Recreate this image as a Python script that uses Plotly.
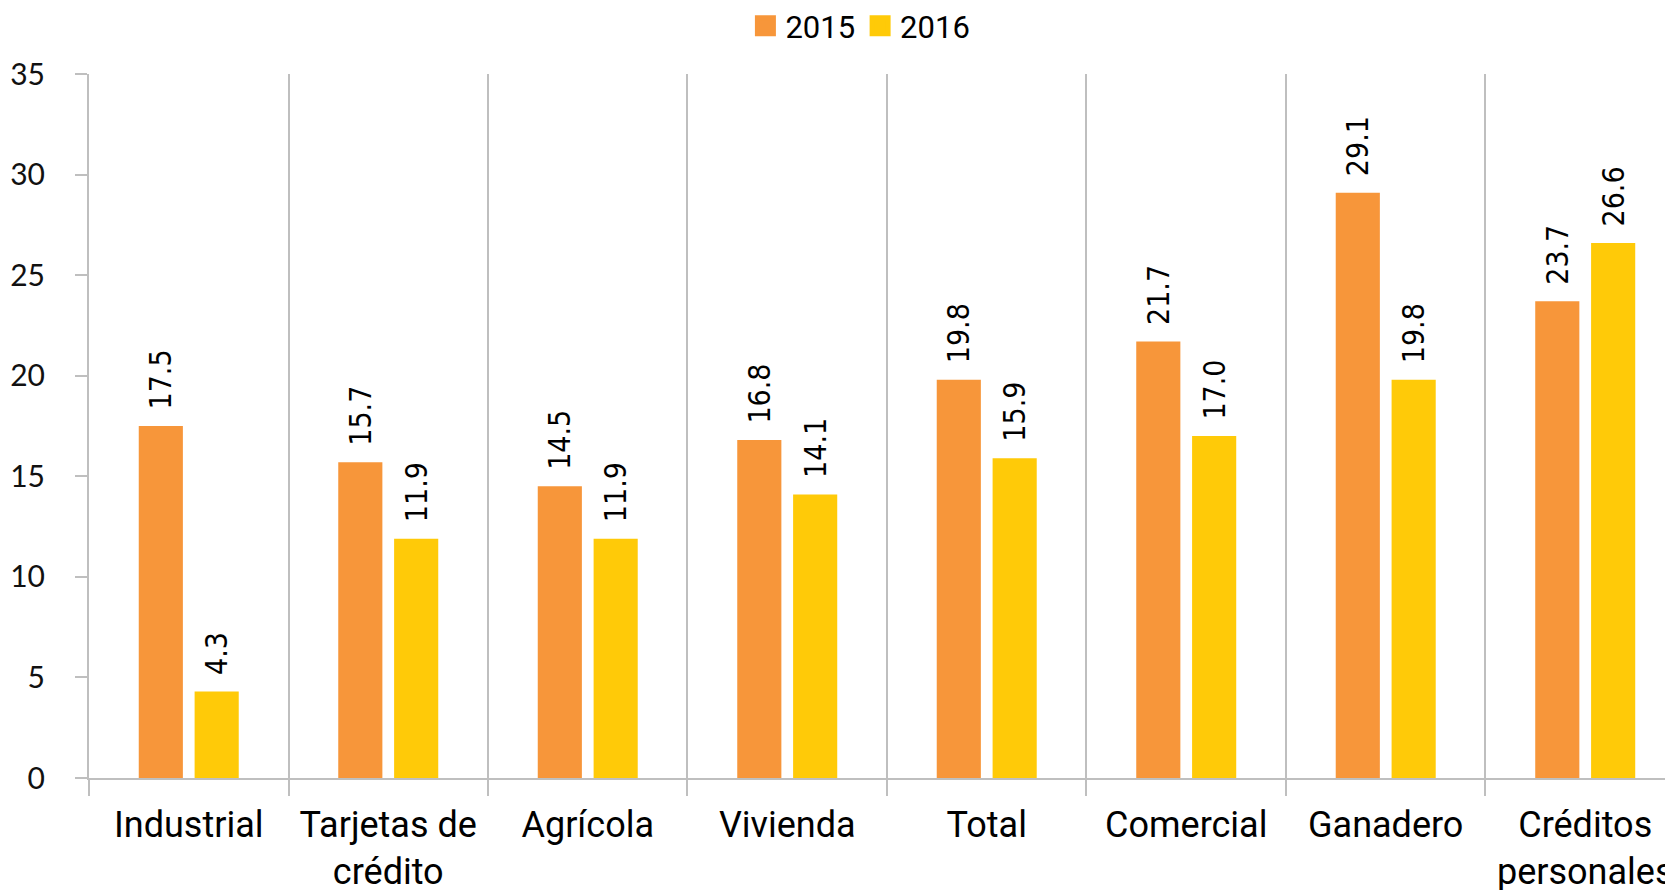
import plotly.graph_objects as go

categories = ["Industrial", "Tarjetas de<br>crédito", "Agrícola", "Vivienda", "Total",
              "Comercial", "Ganadero", "Créditos<br>personales"]
series_names = ["2015", "2016"]
values_2015 = [17.5, 15.7, 14.5, 16.8, 19.8, 21.7, 29.1, 23.7]
values_2016 = [4.3, 11.9, 11.9, 14.1, 15.9, 17.0, 19.8, 26.6]
y_ticks = [0, 5, 10, 15, 20, 25, 30, 35]

colors = ["#F7963A", "#FFCA08"]
label_font = dict(family="Liberation Sans Narrow, DejaVu Sans Condensed, Roboto", size=30, color="#000000")

fig = go.Figure()
for name, vals, col in zip(series_names, [values_2015, values_2016], colors):
    fig.add_trace(go.Bar(
        x=categories, y=vals, name=name, marker=dict(color=col, line=dict(width=0)),
        texttemplate="\u2002%{y:.1f}", textposition="outside", textangle=-90,
        textfont=label_font, cliponaxis=False, constraintext="none",
        showlegend=False,
    ))
# legend entries with larger square swatches
for name, col in zip(series_names, colors):
    fig.add_trace(go.Scatter(
        x=[None], y=[None], mode="markers", name=name,
        marker=dict(symbol="square", size=16, color=col, line=dict(color=col, width=5)),
        showlegend=True,
    ))

# page body has an 8px margin, so the figure is sized to fit the window
fig.update_layout(
    width=1665, height=882,
    margin=dict(l=81, r=0, t=66, b=112, autoexpand=False),
    paper_bgcolor="white", plot_bgcolor="white",
    barmode="group", bargap=0.44, bargroupgap=0.21,
    showlegend=True,
    legend=dict(orientation="h", x=0.487, xanchor="center", y=1.068, yanchor="middle",
                font=dict(family="Roboto", size=31, color="#000000"),
                traceorder="normal", itemsizing="trace"),
    font=dict(family="Roboto", color="#000000"),
)

fig.update_xaxes(
    type="category", range=[-0.5, 7.44], automargin=False,
    tickson="boundaries", ticks="outside", ticklen=16, tickcolor="#BFBFBF", tickwidth=2,
    showgrid=True, gridcolor="#BFBFBF", gridwidth=2,
    showline=True, linecolor="#BFBFBF", linewidth=2,
    tickfont=dict(family="Roboto", size=36, color="#000000"),
    ticklabelstandoff=14,
)
fig.update_yaxes(
    range=[0, 35], tickvals=y_ticks, ticktext=[str(v) for v in y_ticks], automargin=False,
    showgrid=False, zeroline=False,
    showline=True, linecolor="#BFBFBF", linewidth=2,
    ticks="outside", ticklen=12, tickcolor="#BFBFBF", tickwidth=2,
    tickfont=dict(family="Lato", size=30, color="#111111"),
    ticklabelstandoff=24,
)

fig.write_html("out.html")
